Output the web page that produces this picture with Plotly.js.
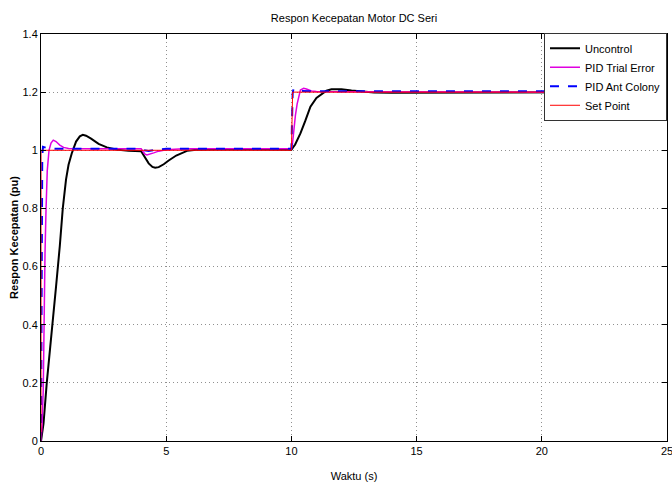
<!DOCTYPE html>
<html>
<head>
<meta charset="utf-8">
<script src="https://cdn.plot.ly/plotly-3.0.1.min.js"></script>
<style>html,body{margin:0;padding:0;background:#fff;}#chart{width:672px;height:482px;}</style>
</head>
<body>
<div id="chart"></div>
<script>
// Uncontrol (black)
const tUnc = [0,0.1,0.23,0.35,0.47,0.6,0.75,0.87,1.0,1.1,1.23,1.4,1.55,1.67,1.8,2.0,2.3,2.63,3.0,3.5,4.0,4.15,4.3,4.45,4.56,4.7,4.9,5.1,5.4,5.83,6.2,7,8,9,10,10.15,10.36,10.55,10.76,11.0,11.23,11.4,11.6,11.8,12.0,12.4,12.8,13.3,14,16,18,20,22,25];
const vUnc = [0,0.06,0.2,0.3,0.405,0.53,0.67,0.8,0.9,0.95,0.99,1.03,1.048,1.053,1.05,1.04,1.022,1.01,1.003,0.998,0.997,0.975,0.955,0.943,0.94,0.942,0.952,0.965,0.982,0.998,1.002,1.003,1.002,1.002,1.002,1.02,1.058,1.1,1.15,1.18,1.196,1.205,1.21,1.211,1.21,1.206,1.202,1.199,1.198,1.199,1.2,1.2,1.2,1.2];
// PID Trial Error (magenta)
const tTrial = [0,0.04,0.09,0.12,0.16,0.2,0.25,0.32,0.4,0.49,0.6,0.75,0.9,1.1,1.4,2,3,4,4.08,4.15,4.23,4.35,4.5,4.7,5.0,5.5,6,8,10,10.04,10.09,10.16,10.23,10.3,10.36,10.49,10.6,10.8,11,12,15,20,25];
const vTrial = [0,0.05,0.175,0.416,0.646,0.795,0.93,1.0,1.025,1.035,1.03,1.018,1.01,1.006,1.005,1.005,1.005,1.005,0.995,0.987,0.984,0.986,0.991,0.997,1.002,1.004,1.005,1.005,1.005,1.02,1.07,1.12,1.16,1.19,1.207,1.213,1.211,1.204,1.202,1.201,1.2,1.2,1.2];
// PID Ant Colony (blue dashed)
const tAnt = [0,0.02,0.05,0.08,0.15,0.3,0.6,1,4,4.1,4.3,4.6,5,10,10.02,10.05,10.08,10.15,10.3,10.6,11,25];
const vAnt = [0,0.5,0.98,1.012,1.01,1.006,1.005,1.005,1.005,1.0,0.998,1.002,1.005,1.005,1.1,1.195,1.21,1.207,1.204,1.203,1.203,1.203];
// Set Point (red)
const tSet = [0,0,10,10.05,25];
const vSet = [0,1,1,1.2,1.2];

const xTicks = [0,5,10,15,20,25];
const yTicks = [0,0.2,0.4,0.6,0.8,1,1.2,1.4];
const yTickText = ['0','0.2','0.4','0.6','0.8','1','1.2','1.4'];

const FONT = '"Liberation Sans", Arial, sans-serif';

const traces = [
  {x:tUnc, y:vUnc, name:'Uncontrol', mode:'lines', line:{color:'#000000', width:2}},
  {x:tTrial, y:vTrial, name:'PID Trial Error', mode:'lines', line:{color:'#e000e0', width:1.5}},
  {x:tAnt, y:vAnt, name:'PID Ant Colony', mode:'lines', line:{color:'#0000ff', width:2, dash:'dash'}},
  {x:tSet, y:vSet, name:'Set Point', mode:'lines', line:{color:'#ff0000', width:1}}
];

const axisCommon = {
  showline:true, linecolor:'#000', linewidth:1, mirror:'ticks',
  ticks:'inside', ticklen:5, tickcolor:'#000',
  showgrid:true, gridcolor:'#909090', griddash:'1px,3px', gridwidth:1,
  zeroline:false, tickfont:{family:FONT, size:11, color:'#000'},
  ticklabeloverflow:'allow'
};

const layout = {
  width:672, height:482,
  margin:{l:41, r:5, t:34, b:41},
  paper_bgcolor:'#fff', plot_bgcolor:'#fff',
  font:{family:FONT, color:'#000'},
  title:{text:'Respon Kecepatan Motor DC Seri', font:{family:FONT, size:11, color:'#000'}, xref:'paper', x:0.5, xanchor:'center', y:0.962, yanchor:'middle'},
  xaxis:Object.assign({}, axisCommon, {range:[0,25], tickvals:xTicks, ticktext:xTicks.map(String),
    title:{text:'Waktu (s)', font:{family:FONT, size:11, color:'#000'}, standoff:16}}),
  yaxis:Object.assign({}, axisCommon, {range:[0,1.4], tickvals:yTicks, ticktext:yTickText,
    title:{text:'<b>Respon Kecepatan (pu)</b>', font:{family:FONT, size:11, color:'#000'}, standoff:1}}),
  legend:{x:1, xanchor:'right', y:1.003, yanchor:'top', bgcolor:'#fff', bordercolor:'#333', borderwidth:1,
    font:{family:FONT, size:11, color:'#000'}, tracegroupgap:0, itemwidth:30},
  showlegend:true
};

Plotly.newPlot('chart', traces, layout, {displayModeBar:false, staticPlot:true});
</script>
</body>
</html>
